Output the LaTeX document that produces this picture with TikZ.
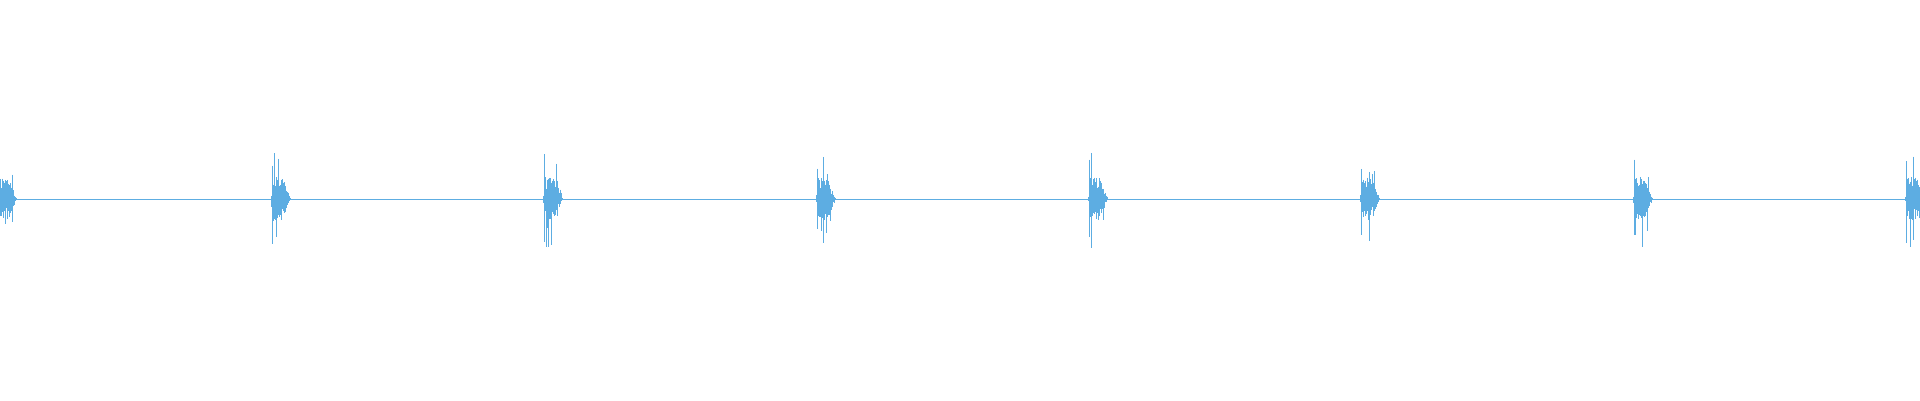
\documentclass[tikz,border=0pt]{standalone}
\begin{document}
\begin{tikzpicture}[x=1pt,y=1pt,wave/.style={draw=wavec,line width=0.8pt}]
\definecolor{wavec}{HTML}{5DADE2}
\useasboundingbox (0,0) rectangle (1920,400);
\pgfmathsetseed{11}
\draw[wave] (0,201) -- (1920,201);
\foreach \s in {-3,271,543,816,1088,1360,1633,1905}{
  \draw[wave,line width=0.6pt] (\s+1,201+30+rnd*20) -- (\s+1,201-30-rnd*20);
  \foreach \i in {0,0.5,...,20}{
    \pgfmathsetmacro{\env}{(\i<2)*(\i*8)+(\i>=2)*(\i<11)*22+(\i>=11)*max(0,22-(\i-11)*2.6)}
    \pgfmathsetmacro{\up}{\env*(0.4+0.6*rnd)*(1+1.3*(rnd>0.9))}
    \pgfmathsetmacro{\dn}{\env*(0.4+0.6*rnd)*(1+1.3*(rnd>0.9))}
    \draw[wave,line width=0.6pt] (\s+\i,201+\up) -- (\s+\i,201-\dn);
  }
}
\end{tikzpicture}
\end{document}
